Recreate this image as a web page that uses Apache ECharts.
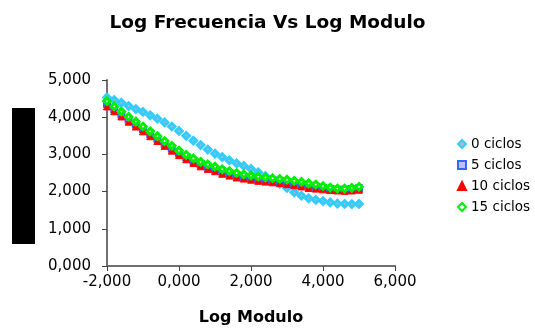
<!DOCTYPE html>
<html>
<head>
<meta charset="utf-8">
<script src="https://cdn.jsdelivr.net/npm/echarts@6/dist/echarts.min.js"></script>
<style>html,body{margin:0;padding:0;background:#fff}#c{width:535px;height:331px}</style>
</head>
<body>
<div id="c"></div>
<script>
var titleText = 'Log Frecuencia Vs Log Modulo';
var xName = 'Log Modulo';
var seriesNames = ['0 ciclos', '5 ciclos', '10 ciclos', '15 ciclos'];
var xVals = [-2.0,-1.8,-1.6,-1.4,-1.2,-1.0,-0.8,-0.6,-0.4,-0.2,0.0,0.2,0.4,0.6,0.8,1.0,1.2,1.4,1.6,1.8,2.0,2.2,2.4,2.6,2.8,3.0,3.2,3.4,3.6,3.8,4.0,4.2,4.4,4.6,4.8,5.0];
var c0  = [4.53,4.46,4.39,4.30,4.22,4.14,4.05,3.96,3.86,3.75,3.63,3.50,3.37,3.25,3.13,3.02,2.93,2.84,2.76,2.69,2.61,2.52,2.42,2.31,2.21,2.10,1.98,1.89,1.82,1.78,1.745,1.71,1.68,1.67,1.665,1.67];
var c5  = [4.36,4.22,4.08,3.94,3.81,3.68,3.55,3.42,3.29,3.16,3.04,2.93,2.83,2.74,2.67,2.61,2.54,2.49,2.44,2.40,2.37,2.34,2.32,2.30,2.28,2.26,2.23,2.20,2.16,2.13,2.10,2.07,2.05,2.05,2.07,2.09];
var c10 = [4.29,4.16,4.02,3.88,3.75,3.62,3.49,3.36,3.23,3.10,2.98,2.87,2.77,2.68,2.61,2.55,2.48,2.43,2.38,2.35,2.32,2.29,2.27,2.25,2.23,2.20,2.17,2.14,2.10,2.08,2.06,2.04,2.03,2.02,2.03,2.05];
var c15 = [4.43,4.29,4.15,4.01,3.88,3.75,3.62,3.49,3.36,3.23,3.10,2.99,2.89,2.80,2.73,2.67,2.60,2.55,2.50,2.46,2.43,2.40,2.38,2.36,2.34,2.32,2.29,2.26,2.22,2.19,2.15,2.11,2.08,2.08,2.10,2.13];

function pairs(ys){ return xVals.map(function(x,i){ return [x, ys[i]]; }); }
function fmt(v){ return v.toFixed(3).replace('.', ','); }

var chart = echarts.init(document.getElementById('c'), null, {renderer:'canvas'});
var font = 'DejaVu Sans';
chart.setOption({
  animation: false,
  title: {text: titleText, left: 'center', top: 9,
    textStyle: {fontFamily: font, fontWeight: 'bold', fontSize: 18.5, color: '#000'}},
  legend: {
    orient: 'vertical', left: 452, top: 132, itemGap: 7, itemWidth: 8, itemHeight: 8,
    textStyle: {fontFamily: font, fontSize: 13.5, color: '#000'},
    data: seriesNames
  },
  grid: {left: 107, right: 140, top: 80, bottom: 59},
  xAxis: {
    type: 'value', min: -2, max: 6, interval: 2,
    name: xName, nameLocation: 'middle', nameGap: 44,
    nameTextStyle: {fontFamily: font, fontWeight: 'bold', fontSize: 16, color: '#000'},
    axisLine: {onZero: false, lineStyle: {color: '#707070', width: 2}},
    axisTick: {length: 5, lineStyle: {color: '#404040'}},
    axisLabel: {fontFamily: font, fontSize: 15, color: '#000', margin: 9, formatter: fmt},
    splitLine: {show: false}
  },
  yAxis: {
    type: 'value', min: 0, max: 5, interval: 1,
    axisLine: {show: true, onZero: false, lineStyle: {color: '#707070', width: 2}},
    axisTick: {show: true, length: 5, lineStyle: {color: '#404040'}},
    axisLabel: {fontFamily: font, fontSize: 15, color: '#000', margin: 16, formatter: fmt},
    splitLine: {show: false}
  },
  graphic: [{type: 'rect', left: 12, top: 108, shape: {width: 23, height: 136}, style: {fill: '#000'}}],
  series: [
    {name: seriesNames[0], type: 'scatter', symbol: 'diamond', symbolSize: 6.5, data: pairs(c0),
      itemStyle: {color: '#b8b8b8', borderColor: '#33ccff', borderWidth: 3, opacity: 1}},
    {name: seriesNames[1], type: 'scatter', symbol: 'rect', symbolSize: 6, data: pairs(c5),
      itemStyle: {color: '#c0c0ff', borderColor: '#3366ff', borderWidth: 2, opacity: 1}},
    {name: seriesNames[2], type: 'scatter', symbol: 'triangle', symbolSize: 7, data: pairs(c10),
      itemStyle: {color: '#ff0000', borderColor: '#ff0000', borderWidth: 1, opacity: 1}},
    {name: seriesNames[3], type: 'scatter', symbol: 'diamond', symbolSize: 6.5, data: pairs(c15),
      itemStyle: {color: '#ffffff', borderColor: '#00ee00', borderWidth: 3, opacity: 1}}
  ]
});
</script>
</body>
</html>
